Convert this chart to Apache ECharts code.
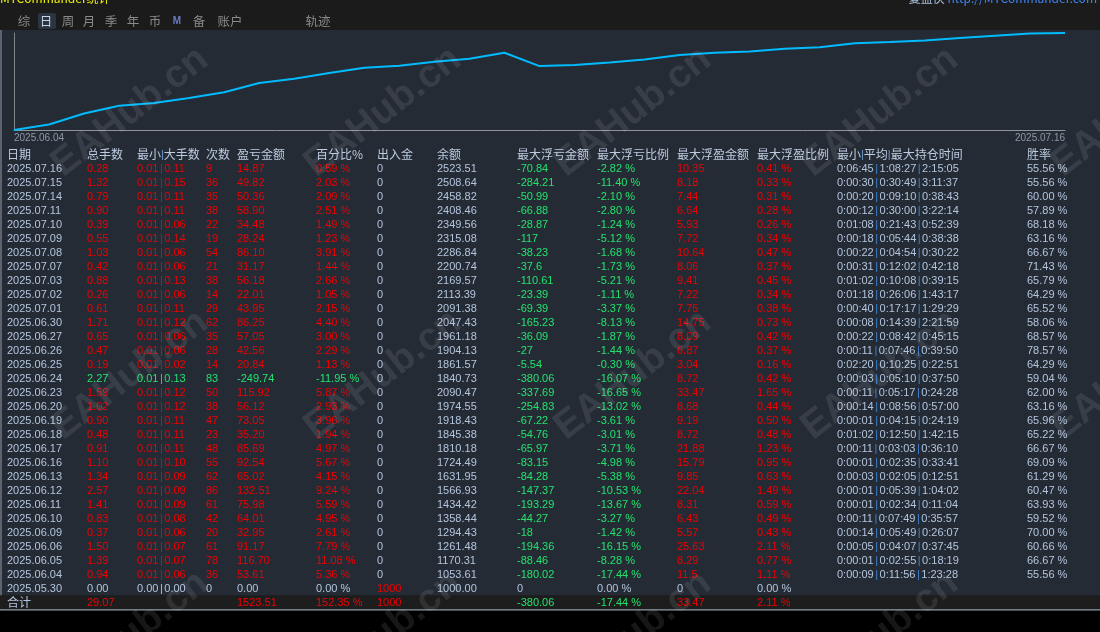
<!DOCTYPE html>
<html><head><meta charset="utf-8">
<script src="https://cdn.jsdelivr.net/npm/echarts@6/dist/echarts.min.js"></script>
<style>html,body{margin:0;padding:0;background:#000;}#c{width:1100px;height:632px;}</style>
</head><body><div id="c"></div>
<script>
// ---------------- DATA ----------------
const dates = ['2025.07.16','2025.07.15','2025.07.14','2025.07.11','2025.07.10','2025.07.09','2025.07.08','2025.07.07','2025.07.03','2025.07.02','2025.07.01','2025.06.30','2025.06.27','2025.06.26','2025.06.25','2025.06.24','2025.06.23','2025.06.20','2025.06.19','2025.06.18','2025.06.17','2025.06.16','2025.06.13','2025.06.12','2025.06.11','2025.06.10','2025.06.09','2025.06.06','2025.06.05','2025.06.04','2025.05.30'];
const totalLots = [0.28,1.32,0.79,0.90,0.39,0.55,1.03,0.42,0.88,0.26,0.61,1.71,0.65,0.47,0.19,2.27,1.59,1.02,0.90,0.48,0.91,1.10,1.34,2.57,1.41,0.83,0.37,1.50,1.39,0.94,0];
const minLots = [0.01,0.01,0.01,0.01,0.01,0.01,0.01,0.01,0.01,0.01,0.01,0.01,0.01,0.01,0.01,0.01,0.01,0.01,0.01,0.01,0.01,0.01,0.01,0.01,0.01,0.01,0.01,0.01,0.01,0.01,0];
const maxLots = [0.11,0.15,0.11,0.11,0.06,0.14,0.06,0.06,0.13,0.06,0.11,0.12,0.06,0.06,0.02,0.13,0.12,0.12,0.11,0.11,0.11,0.10,0.09,0.09,0.09,0.08,0.06,0.07,0.07,0.06,0];
const tradeCounts = [9,36,35,38,22,19,54,21,38,14,29,62,35,28,14,83,50,38,47,23,48,55,62,86,61,42,20,61,78,36,0];
const profit = [14.87,49.82,50.36,58.90,34.48,28.24,86.10,31.17,56.18,22.01,43.95,86.25,57.05,42.56,20.84,-249.74,115.92,56.12,73.05,35.20,85.69,92.54,65.02,132.51,75.98,64.01,32.95,91.17,116.70,53.61,0];
const profitPct = [0.59,2.03,2.09,2.51,1.49,1.23,3.91,1.44,2.66,1.05,2.15,4.40,3.00,2.29,1.13,-11.95,5.87,2.93,3.96,1.94,4.97,5.67,4.15,9.24,5.59,4.95,2.61,7.79,11.08,5.36,0];
const cashFlow = [0,0,0,0,0,0,0,0,0,0,0,0,0,0,0,0,0,0,0,0,0,0,0,0,0,0,0,0,0,0,1000];
const balance = [2523.51,2508.64,2458.82,2408.46,2349.56,2315.08,2286.84,2200.74,2169.57,2113.39,2091.38,2047.43,1961.18,1904.13,1861.57,1840.73,2090.47,1974.55,1918.43,1845.38,1810.18,1724.49,1631.95,1566.93,1434.42,1358.44,1294.43,1261.48,1170.31,1053.61,1000];
const maxFloatLoss = [-70.84,-284.21,-50.99,-66.88,-28.87,-117,-38.23,-37.6,-110.61,-23.39,-69.39,-165.23,-36.09,-27,-5.54,-380.06,-337.69,-254.83,-67.22,-54.76,-65.97,-83.15,-84.28,-147.37,-193.29,-44.27,-18,-194.36,-88.46,-180.02,0];
const maxFloatLossPct = [-2.82,-11.40,-2.10,-2.80,-1.24,-5.12,-1.68,-1.73,-5.21,-1.11,-3.37,-8.13,-1.87,-1.44,-0.30,-16.07,-16.65,-13.02,-3.61,-3.01,-3.71,-4.98,-5.38,-10.53,-13.67,-3.27,-1.42,-16.15,-8.28,-17.44,0];
const maxFloatProfit = [10.35,8.18,7.44,6.64,5.93,7.72,10.64,8.06,9.41,7.22,7.75,14.75,8.09,6.87,3.04,8.72,33.47,8.68,9.19,8.72,21.88,15.79,9.85,22.04,8.31,6.43,5.57,25.63,8.29,11.5,0];
const maxFloatProfitPct = [0.41,0.33,0.31,0.28,0.26,0.34,0.47,0.37,0.45,0.34,0.38,0.73,0.42,0.37,0.16,0.42,1.65,0.44,0.50,0.48,1.23,0.95,0.63,1.49,0.59,0.49,0.43,2.11,0.77,1.11,0];
const holdMin = ['0:06:45','0:00:30','0:00:20','0:00:12','0:01:08','0:00:18','0:00:22','0:00:31','0:01:02','0:01:18','0:00:40','0:00:08','0:00:22','0:00:11','0:02:20','0:00:03','0:00:11','0:00:14','0:00:01','0:01:02','0:00:11','0:00:01','0:00:03','0:00:01','0:00:01','0:00:11','0:00:14','0:00:05','0:00:01','0:00:09',''];
const holdAvg = ['1:08:27','0:30:49','0:09:10','0:30:00','0:21:43','0:05:44','0:04:54','0:12:02','0:10:08','0:26:06','0:17:17','0:14:39','0:08:42','0:07:46','0:10:25','0:05:10','0:05:17','0:08:56','0:04:15','0:12:50','0:03:03','0:02:35','0:02:05','0:05:39','0:02:34','0:07:49','0:05:49','0:04:07','0:02:55','0:11:56',''];
const holdMax = ['2:15:05','3:11:37','0:38:43','3:22:14','0:52:39','0:38:38','0:30:22','0:42:18','0:39:15','1:43:17','1:29:29','2:21:59','0:45:15','0:39:50','0:22:51','0:37:50','0:24:28','0:57:00','0:24:19','1:42:15','0:36:10','0:33:41','0:12:51','1:04:02','0:11:04','0:35:57','0:26:07','0:37:45','0:18:19','1:23:28',''];
const winRate = [55.56,55.56,60.00,57.89,68.18,63.16,66.67,71.43,65.79,64.29,65.52,58.06,68.57,78.57,64.29,59.04,62.00,63.16,65.96,65.22,66.67,69.09,61.29,60.47,63.93,59.52,70.00,60.66,66.67,55.56,null];
const headerLabels = ['日期','总手数','最小|大手数','次数','盈亏金额','百分比%','出入金','余额','最大浮亏金额','最大浮亏比例','最大浮盈金额','最大浮盈比例','最小|平均|最大持仓时间','胜率'];
const totalLabel = '合计';
const sumLots = 29.07;
const sumProfit = 1523.51;
const sumProfitPct = 152.35;
const sumCash = 1000;
const sumFloatLoss = -380.06;
const sumFloatLossPct = -17.44;
const sumFloatProfit = 33.47;
const sumFloatProfitPct = 2.11;
const xTickLabels = ['2025.06.04','2025.07.16'];
const tabLabels = ['综','日','周','月','季','年','币','M','备','账户','轨迹'];
const titleText = 'MTCommander统计';
const siteName = '复盘侠 ';
const siteUrl = 'http://MTCommander.com';
const watermarkText = 'EAHub.cn';

// ---------------- LAYOUT / STYLE ----------------
const colX = [7,87,137,206,237,316,377,437,517,597,677,757,837,1027];
const tabX = [24,46,68,89,111,133,155,177,199,230,318];
const wmX = [130,383,633,880,1130];
const wmY = [112,375,636];
const RED = '#ee0000', GREEN = '#22e26c', LIGHT = '#b3c5dd', HEAD = '#bccbe0', PIPE = '#3d84d6';
const NUM_FONT = '11px "Liberation Sans", Arial, sans-serif';
const CJK_FONT = '12px "Noto Sans CJK SC", sans-serif';

// derived
const curveDates = dates.slice().reverse();
const curveBalance = balance.slice().reverse();
const rowKeys = ['header'].concat(dates, ['total']);
const N = dates.length;

function f2(v){ return v.toFixed(2); }
function sgn(v){ return v > 0 ? RED : (v < 0 ? GREEN : LIGHT); }
function esc(s){ return s.replace(/\|/g, '{p||}'); }

function cellsFor(r){
  if (r === 0) {
    return headerLabels.map(h => ({text: esc(h), color: HEAD, font: CJK_FONT, pipe: '#6f9bd6', tight: true}));
  }
  if (r === N + 1) {
    return [
      {text: totalLabel, color: LIGHT, font: CJK_FONT},
      {text: f2(sumLots), color: RED}, null, null,
      {text: f2(sumProfit), color: RED},
      {text: f2(sumProfitPct) + ' %', color: RED},
      {text: String(sumCash), color: RED}, null,
      {text: String(sumFloatLoss), color: GREEN},
      {text: f2(sumFloatLossPct) + ' %', color: GREEN},
      {text: String(sumFloatProfit), color: RED},
      {text: f2(sumFloatProfitPct) + ' %', color: RED}, null, null
    ];
  }
  const i = r - 1;
  const c = sgn(profit[i]);
  return [
    {text: dates[i], color: LIGHT},
    {text: f2(totalLots[i]), color: c},
    {text: f2(minLots[i]) + '{p||}' + f2(maxLots[i]), color: c},
    {text: String(tradeCounts[i]), color: c},
    {text: f2(profit[i]), color: c},
    {text: f2(profitPct[i]) + ' %', color: c},
    {text: String(cashFlow[i]), color: cashFlow[i] > 0 ? RED : LIGHT},
    {text: f2(balance[i]), color: LIGHT},
    {text: String(maxFloatLoss[i]), color: maxFloatLoss[i] < 0 ? GREEN : LIGHT},
    {text: f2(maxFloatLossPct[i]) + ' %', color: maxFloatLossPct[i] < 0 ? GREEN : LIGHT},
    {text: String(maxFloatProfit[i]), color: maxFloatProfit[i] > 0 ? RED : LIGHT},
    {text: f2(maxFloatProfitPct[i]) + ' %', color: maxFloatProfitPct[i] > 0 ? RED : LIGHT},
    holdMin[i] ? {text: holdMin[i] + '{p||}' + holdAvg[i] + '{p||}' + holdMax[i], color: LIGHT, pipe: PIPE} : null,
    winRate[i] != null ? {text: f2(winRate[i]) + ' %', color: LIGHT} : null
  ];
}

function renderTable(params, api){
  const r = api.value(1);
  const band = api.size([0, 1])[1];
  const children = [];
  if (r === N + 1) {
    const a = api.coord([0, r]), b = api.coord([1100, r]);
    children.push({type: 'rect', shape: {x: a[0], y: a[1] - band / 2, width: b[0] - a[0], height: band}, style: {fill: '#1d1d1e'}});
  }
  cellsFor(r).forEach((cell, ci) => {
    if (!cell) return;
    const p = api.coord([colX[ci], r]);
    const pipeStyle = {padding: cell.tight ? [0, 0, 0, 0] : [0, 1.5, 0, 1.5]};
    if (cell.pipe) pipeStyle.fill = cell.pipe;
    if (cell.tight) pipeStyle.font = '11px "Liberation Sans", sans-serif';
    children.push({
      type: 'text', x: p[0], y: p[1] + 0.5,
      style: {text: cell.text, fill: cell.color, font: cell.font || NUM_FONT, align: 'left', verticalAlign: 'middle', rich: {p: pipeStyle}}
    });
  });
  return {type: 'group', children};
}

// graphic elements (decor, headers, watermark)
const graphics = [
  {type: 'rect', shape: {x: 0, y: 0, width: 1100, height: 30}, style: {fill: '#1b1b1b'}, z: 0},
  {type: 'rect', shape: {x: 0, y: 609.3, width: 1100, height: 23}, style: {fill: '#000'}, z: 0},
  {type: 'line', shape: {x1: 0, y1: 609.8, x2: 1100, y2: 609.8}, style: {stroke: '#95a0ac', lineWidth: 1.2}, z: 5},
  {type: 'rect', shape: {x: 0, y: 30, width: 2, height: 579.5}, style: {fill: '#5b6470'}, z: 1},
  {type: 'text', x: 0, y: -8, style: {text: titleText, fill: '#f2f200', font: '12px "Noto Sans CJK SC", sans-serif', align: 'left', verticalAlign: 'top'}, z: 5},
  {type: 'text', x: 1097, y: -8, style: {text: '{a|' + siteName + '}{b|' + siteUrl + '}', align: 'right', verticalAlign: 'top', font: '12px "Noto Sans CJK SC", sans-serif',
     rich: {a: {fill: '#a9c0df'}, b: {fill: '#3f86f0'}}}, z: 5},
  {type: 'rect', shape: {x: 38, y: 13, width: 18, height: 16, r: 2}, style: {fill: '#2b3441'}, z: 2}
];
tabLabels.forEach((t, i) => {
  const isM = t === 'M';
  graphics.push({type: 'text', x: tabX[i], y: 21.5, z: 5,
    style: {text: t, fill: isM ? '#6a7bc0' : (i === 1 ? '#c8d3e2' : '#8a8a8a'),
      font: isM ? 'bold 10px "Liberation Sans", sans-serif' : '12.5px "Noto Sans CJK SC", sans-serif',
      align: 'center', verticalAlign: 'middle'}});
});
wmY.forEach(y => wmX.forEach(x => {
  graphics.push({type: 'text', x: x, y: y, rotation: 0.66, z: 100, silent: true,
    style: {text: watermarkText, fill: 'rgba(255,255,255,0.09)', font: 'bold 39px "Liberation Sans", Arial, sans-serif', align: 'center', verticalAlign: 'middle'}});
}));

const chart = echarts.init(document.getElementById('c'));
chart.setOption({
  backgroundColor: '#252b35',
  animation: false,
  grid: [
    {left: 14, right: 35, top: 33, height: 97},
    {left: 0, right: 0, top: 147.3, height: 462}
  ],
  xAxis: [
    {type: 'category', gridIndex: 0, data: curveDates, boundaryGap: false,
     axisLine: {lineStyle: {color: '#8f949b', width: 1}}, axisTick: {show: false}, splitLine: {show: false},
     axisLabel: {interval: (i) => i === 0 || i === curveDates.length - 1,
       formatter: (v, i) => i === 0 ? xTickLabels[0] : xTickLabels[1],
       color: '#8e99a6', fontSize: 10, fontFamily: '"Liberation Sans", Arial, sans-serif', margin: 3,
       alignMinLabel: 'left', alignMaxLabel: 'right'}},
    {type: 'value', gridIndex: 1, min: 0, max: 1100, show: false}
  ],
  yAxis: [
    {type: 'log', logBase: 10, gridIndex: 0, min: 1000, max: 2523.51,
     axisLine: {show: true, lineStyle: {color: '#80858c'}}, axisTick: {show: false}, axisLabel: {show: false}, splitLine: {show: false}},
    {type: 'category', gridIndex: 1, data: rowKeys, inverse: true, show: false}
  ],
  series: [
    {type: 'line', xAxisIndex: 0, yAxisIndex: 0, data: curveBalance, symbol: 'none',
     lineStyle: {color: '#00bcff', width: 2}, silent: true, z: 3},
    {type: 'custom', xAxisIndex: 1, yAxisIndex: 1, data: rowKeys.map((k, i) => [0, i]),
     encode: {x: 0, y: 1}, renderItem: renderTable, silent: true, z: 3}
  ],
  graphic: graphics
});
</script></body></html>
